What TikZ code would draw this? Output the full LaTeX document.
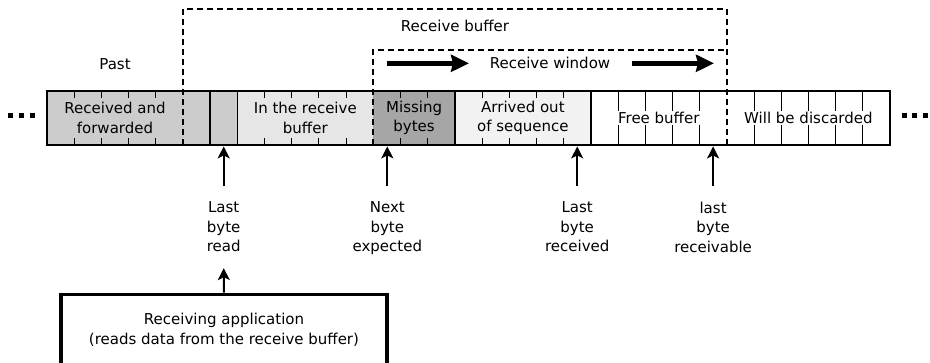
\documentclass[tikz,border=0pt]{standalone}
\usepackage{fontspec}
\setmainfont{DejaVu Sans}
\usetikzlibrary{arrows.meta}
\definecolor{cfwd}{HTML}{CCCCCC}
\definecolor{cbuf}{HTML}{E6E6E6}
\definecolor{cmiss}{HTML}{A6A6A6}
\definecolor{cooo}{HTML}{F2F2F2}
\tikzset{
  tick/.style={line width=0.9pt},
  divider/.style={line width=1.4pt},
  dsh/.style={line width=2.3pt, dash pattern=on 6pt off 4pt},
  uparr/.style={line width=2pt, -{Stealth[length=12pt,width=12pt,inset=3pt]}},
  winarr/.style={line width=4.5pt, -{Stealth[length=18pt,width=17pt,inset=2pt]}},
  reg/.style={align=center, inner sep=0pt},
  lbl/.style={align=center, inner sep=0pt, outer ysep=16pt, anchor=north},
  dot/.style={fill=black}
}
\begin{document}
\begin{tikzpicture}[x=1pt,y=-1pt,font=\fontsize{15}{19.5}\selectfont]
\useasboundingbox (0,0) rectangle (930,362);
\clip (0,0) rectangle (930,362);
\def\cw{27.1935}
% region fills
\fill[cfwd]  (47,91) rectangle (237.35,145);
\fill[cbuf]  (237.35,91) rectangle (373.32,145);
\fill[cmiss] (373.32,91) rectangle (454.9,145);
\fill[cooo]  (454.9,91) rectangle (590.87,145);
% short ticks
\foreach \k in {1,2,3,4,8,9,10,11,13,14,16,17,18,19}{
  \draw[tick] ({47+\cw*\k},91) -- ({47+\cw*\k},98);
  \draw[tick] ({47+\cw*\k},138) -- ({47+\cw*\k},145);
}
% long ticks
\foreach \k in {21,22,23,24,26,27,28,29,30}{
  \draw[tick] ({47+\cw*\k},91) -- ({47+\cw*\k},110.5);
  \draw[tick] ({47+\cw*\k},124.5) -- ({47+\cw*\k},145);
}
% solid dividers
\foreach \k in {6,7,15,20}{
  \draw[divider] ({47+\cw*\k},91) -- ({47+\cw*\k},145);
}
% strip frame
\node[draw, line width=2.8pt, minimum width=843pt, minimum height=54pt, inner sep=0pt] (strip) at (468.5,118) {};
% dashed receive buffer and window
\draw[dsh] (183,145) -- (183,9) -- (726.8,9) -- (726.8,145);
\draw[dsh] (373.32,145) -- (373.32,50) -- (726.8,50);
% dots
\foreach \x in {7.5,18.5,29.5,901.5,912,922.5}{
  \fill[dot] (\x,112.5) rectangle ++(5,5);
}
% region texts
\node[reg] (tfwd)  at (115,118) {Received and\\forwarded};
\node[reg] (tbuf)  at (305.3,118) {In the receive\\buffer};
\node[reg] (tmiss) at (414.1,118) {Missing\\bytes};
\node[reg] (tooo)  at (522.9,118) {Arrived out\\of sequence};
\node[reg] (tfree) at (658.8,118) {Free buffer};
\node[reg] (tdisc) at (808.4,118) {Will be discarded};
% top texts
\node[inner sep=0pt] (tpast) at (115,64) {Past};
\node[inner sep=0pt] (trb) at (455,26) {Receive buffer};
\node[inner sep=0pt] (trw) at (550,63) {Receive window};
% window arrows
\coordinate (w1a) at (386.7,63.3);
\coordinate (w1b) at (469,63.3);
\coordinate (w2a) at (631.7,63.3);
\coordinate (w2b) at (714,63.3);
\draw[winarr] (w1a) -- (w1b);
\draw[winarr] (w2a) -- (w2b);
% labels below
\node[lbl] (lread) at (223.7,186) {Last\\byte\\read};
\node[lbl] (lnext) at (387.3,186) {Next\\byte\\expected};
\node[lbl] (lrecv) at (577.2,186) {Last\\byte\\received};
\node[lbl] (lable) at (713.1,186) {last\\byte\\receivable};
\foreach \n in {lread,lnext,lrecv,lable}{
  \draw[uparr] (\n.north) -- (\n.north |- strip.south);
}
% application box
\node[draw, line width=3.6pt, minimum width=326pt, minimum height=71pt, align=center, inner sep=0pt] (app) at (224,330) {Receiving application\\(reads data from the receive buffer)};
\draw[uparr] (app.north) -- (lread.south);
\end{tikzpicture}
\end{document}
